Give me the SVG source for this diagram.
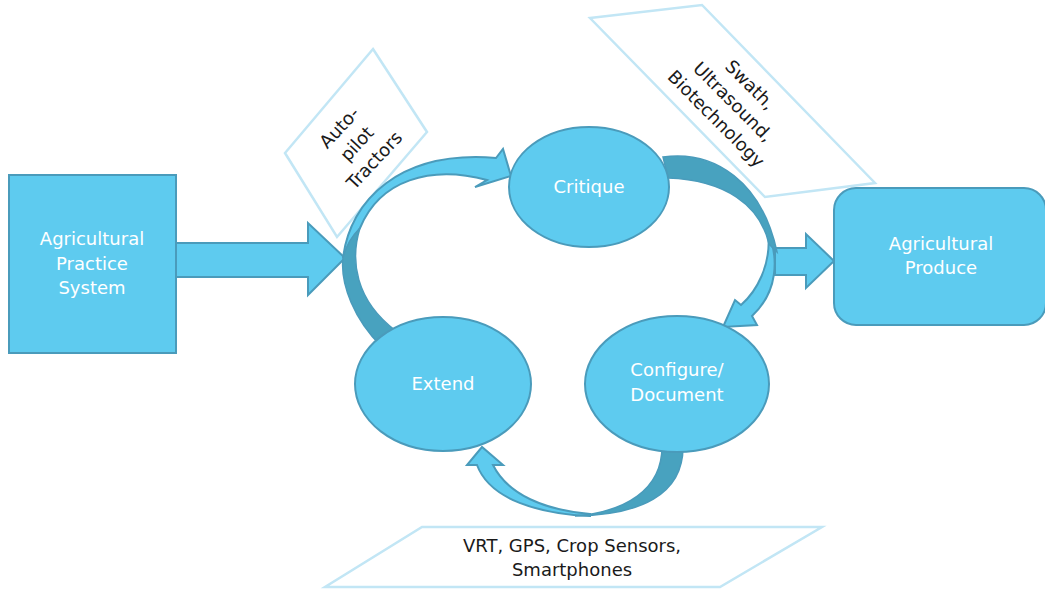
<svg xmlns="http://www.w3.org/2000/svg" width="1045" height="592" viewBox="0 0 1045 592">
<style>
.n{fill:#5ecbef;stroke:#4a9bbb;stroke-width:2}
.d{fill:#48a2bf;stroke:#4a9bbb;stroke-width:1.5}
.a{fill:#fff;stroke:#c2e6f5;stroke-width:2.5}
.w{font-family:"DejaVu Sans",sans-serif;font-size:18px;fill:#fff;text-anchor:middle}
.k{font-family:"DejaVu Sans",sans-serif;font-size:18px;fill:#1a1a1a;text-anchor:middle}
</style>
<rect width="1045" height="592" fill="#fff"/>
<g id="annotations">
<g id="note-autopilot">
<polygon class="a" points="373,49 427,132 337,237 285,153"/>
<g transform="translate(357,144) rotate(-47)">
<text class="k" x="0" y="-18">Auto-</text>
<text class="k" x="0" y="6">pilot</text>
<text class="k" x="0" y="30">Tractors</text>
</g>
</g>
<g id="note-swath">
<polygon class="a" points="590,18 702,5 875,183 765,197"/>
<g transform="translate(733,102) rotate(45)">
<text class="k" x="0" y="-18">Swath,</text>
<text class="k" x="0" y="6">Ultrasound,</text>
<text class="k" x="0" y="30">Biotechnology</text>
</g>
</g>
<g id="note-vrt">
<polygon class="a" points="422,527 822,527 720,587 325,587"/>
<text class="k" x="572" y="552">VRT, GPS, Crop Sensors,</text>
<text class="k" x="572" y="576">Smartphones</text>
</g>
</g>
<g id="connectors">
<polygon class="n" points="176,243 308,243 308,223 345,258 308,295 308,277 176,277"/>
<polygon class="n" points="775,248 806,248 806,234 834,261 806,288 806,275 775,275"/>
<path class="n" d="M343,258 C350,200 400,150 496,158 L503,149 L511,176 L475,187 L487,180 C430,165 380,180 360,228 C352,240 346,250 343,258 Z"/>
<path class="d" d="M360,228 C350,260 355,300 396,331 L381,346 C355,320 340,285 343,258 C346,245 352,236 360,228 Z"/>
<path class="n" d="M768,232 C779,258 778,292 752,316 L757,325 L723,327 L735,300 L741,305 C756,292 772,265 768,232 Z"/>
<path class="d" d="M663,157 C715,150 762,182 777,252 L769,244 C760,205 725,180 668,178 Z"/>
<path class="n" d="M590,516 C540,514 490,500 477,465 L467,465 L482,447 L503,465 L493,465 C508,495 545,510 590,514 Z"/>
<path class="d" d="M683,447 C683,495 640,515 575,516 C625,512 662,490 662,447 Z"/>
</g>
<g id="node-practice">
<rect class="n" x="9" y="175" width="167" height="178"/>
<text class="w" x="92" y="245">Agricultural</text>
<text class="w" x="92" y="270">Practice</text>
<text class="w" x="92" y="294">System</text>
</g>
<g id="node-critique">
<ellipse class="n" cx="589" cy="187" rx="80" ry="60"/>
<text class="w" x="589" y="193">Critique</text>
</g>
<g id="node-extend">
<ellipse class="n" cx="443" cy="384" rx="88" ry="67"/>
<text class="w" x="443" y="390">Extend</text>
</g>
<g id="node-configure">
<ellipse class="n" cx="677" cy="384" rx="92" ry="68"/>
<text class="w" x="677" y="376">Configure/</text>
<text class="w" x="677" y="401">Document</text>
</g>
<g id="node-produce">
<rect class="n" x="834" y="188" width="212" height="137" rx="22"/>
<text class="w" x="941" y="250">Agricultural</text>
<text class="w" x="941" y="274">Produce</text>
</g>
</svg>
